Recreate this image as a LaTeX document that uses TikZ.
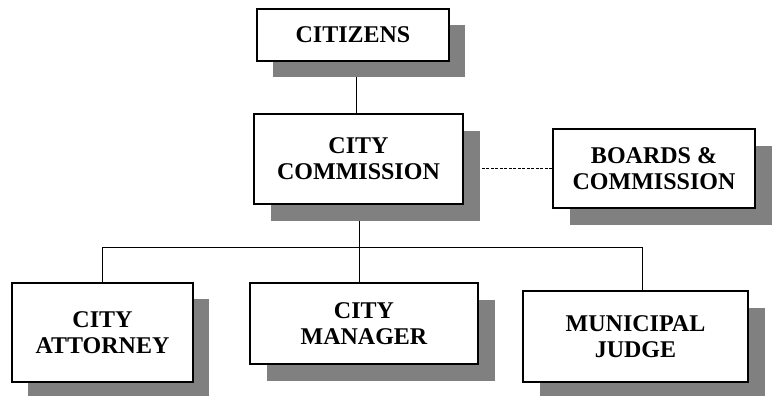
\documentclass[tikz,border=0pt]{standalone}
\usepackage{fontspec}
\setmainfont{Liberation Serif}
\usetikzlibrary{shadows,backgrounds}
\definecolor{shadowgray}{RGB}{128,128,128}
\begin{document}
\begin{tikzpicture}[x=1pt,y=-1pt,
  box/.style={draw=black, line width=1.6pt, fill=white, align=center, inner sep=0pt,
    font=\fontsize{24}{26}\selectfont\bfseries,
    drop shadow={shadow xshift=#1, shadow yshift=-#1, fill=shadowgray, opacity=1}},
  box/.default=16pt,
  conn/.style={line width=1pt, draw=black}]
\useasboundingbox (0,0) rectangle (774,396);
\node[box=16pt, minimum width=192pt, minimum height=52pt] (cit) at (353,35) {CITIZENS};
\node[box=17pt, minimum width=209pt, minimum height=90pt] (com) at (358.5,159) {CITY\\COMMISSION};
\node[box=17pt, minimum width=202pt, minimum height=79pt] (brd) at (654,168.5) {BOARDS \&\\COMMISSION};
\node[box=16pt, minimum width=181pt, minimum height=99pt] (att) at (102.5,332.5) {CITY\\ATTORNEY};
\node[box=17pt, minimum width=228pt, minimum height=81pt] (mgr) at (364,323.5) {CITY\\MANAGER};
\node[box=17pt, minimum width=225pt, minimum height=91pt] (jud) at (635.5,336.5) {MUNICIPAL\\JUDGE};
\coordinate (j) at (359,247);
\coordinate (jt) at (642,247);
\begin{scope}[on background layer]
  \draw[conn] (cit.south -| 356,0) -- (com.north -| 356,0);
  \draw[conn] (com.south -| j) -- (j);
  \draw[conn] (att.north) |- (jt) -- (jt |- jud.north);
  \draw[conn] (j) -- (j |- mgr.north);
  \draw[conn, dash pattern=on 3pt off 1.5pt] (com.east |- brd.west) -- (brd.west);
\end{scope}
\end{tikzpicture}
\end{document}
